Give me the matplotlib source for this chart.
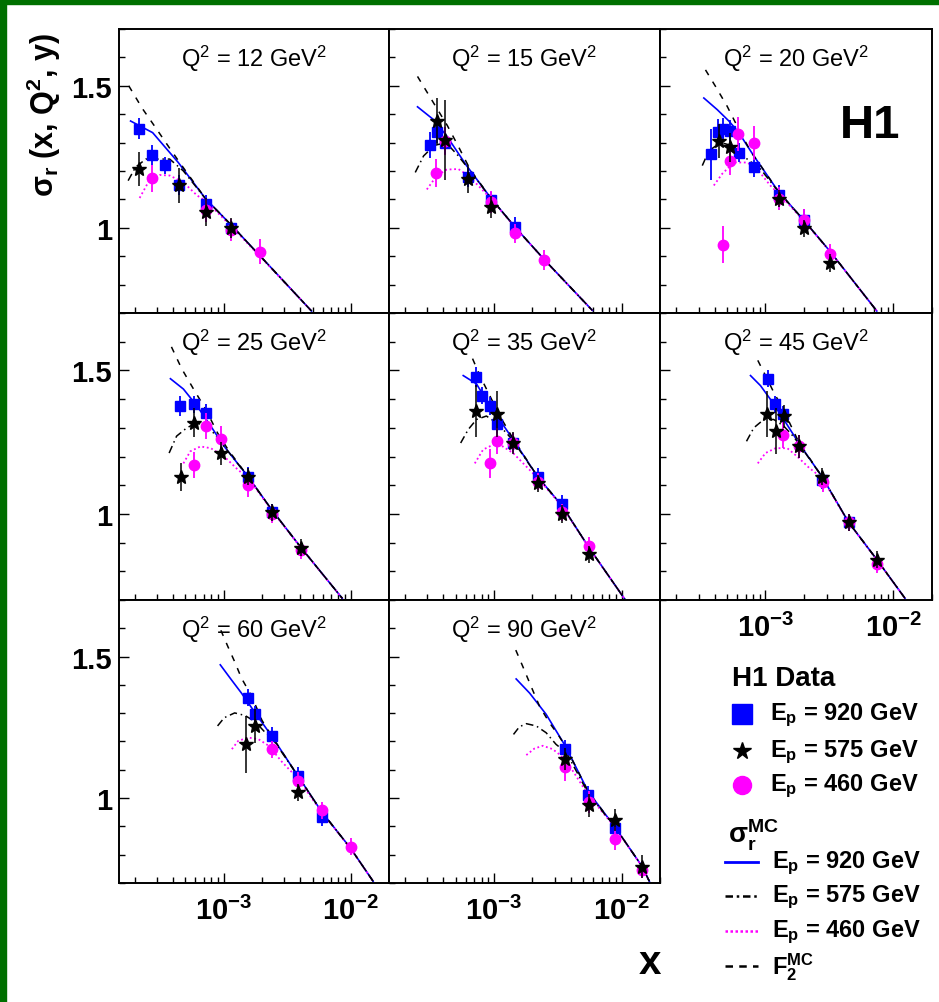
import numpy as np
import matplotlib
matplotlib.use('Agg')
import matplotlib.pyplot as plt
from matplotlib import ticker
from matplotlib.lines import Line2D
from matplotlib.patches import Rectangle

plt.rcParams['font.family'] = ['Liberation Sans', 'DejaVu Sans']
plt.rcParams['mathtext.fontset'] = 'custom'
plt.rcParams['mathtext.rm'] = 'Liberation Sans'
plt.rcParams['mathtext.it'] = 'Liberation Sans:italic'
plt.rcParams['mathtext.bf'] = 'Liberation Sans:bold'
plt.rcParams['mathtext.sf'] = 'Liberation Sans'

# ---------------- data ----------------
Q2 = [12, 15, 20, 25, 35, 45, 60, 90]

# H1 data, Ep = 920 GeV (blue squares)
x920 = [
    [2.15e-4, 2.71e-4, 3.43e-4, 4.47e-4, 7.2e-4, 1.15e-3],
    [3.15e-4, 3.55e-4, 4.1e-4, 6.2e-4, 9.5e-4, 1.47e-3],
    [3.73e-4, 4.27e-4, 4.68e-4, 5.33e-4, 6.2e-4, 8.2e-4, 1.27e-3, 1.99e-3],
    [4.53e-4, 5.8e-4, 7.2e-4, 1.54e-3, 2.41e-3],
    [7.2e-4, 8.1e-4, 9.25e-4, 1.05e-3, 1.42e-3, 2.2e-3, 3.4e-3],
    [1.04e-3, 1.18e-3, 1.36e-3, 2.77e-3, 4.46e-3],
    [1.54e-3, 1.77e-3, 2.38e-3, 3.83e-3, 5.9e-3],
    [3.62e-3, 5.5e-3, 8.9e-3],
]
s920 = [
    [1.349, 1.256, 1.221, 1.151, 1.085, 0.998],
    [1.291, 1.337, 1.30, 1.178, 1.097, 1.003],
    [1.259, 1.337, 1.347, 1.341, 1.265, 1.213, 1.116, 1.027],
    [1.376, 1.382, 1.353, 1.129, 1.006],
    [1.476, 1.412, 1.376, 1.312, 1.247, 1.129, 1.035],
    [1.471, 1.382, 1.347, 1.118, 0.971],
    [1.354, 1.296, 1.22, 1.079, 0.933],
    [1.175, 1.012, 0.893],
]
e920 = [
    [0.036, 0.035, 0.03, 0.035, 0.03, 0.03],
    [0.045, 0.04, 0.04, 0.035, 0.03, 0.035],
    [0.09, 0.045, 0.04, 0.04, 0.035, 0.035, 0.035, 0.04],
    [0.035, 0.03, 0.03, 0.035, 0.03],
    [0.035, 0.03, 0.03, 0.03, 0.03, 0.03, 0.03],
    [0.03, 0.03, 0.03, 0.03, 0.03],
    [0.03, 0.03, 0.03, 0.03, 0.03],
    [0.03, 0.03, 0.03],
]

# H1 data, Ep = 575 GeV (black stars)
x575 = [
    [2.15e-4, 4.47e-4, 7.2e-4, 1.15e-3],
    [3.55e-4, 4.1e-4, 6.2e-4, 9.5e-4],
    [4.3e-4, 5.3e-4, 1.27e-3, 1.99e-3, 3.2e-3],
    [4.6e-4, 5.8e-4, 9.6e-4, 1.56e-3, 2.4e-3, 4.07e-3],
    [7.2e-4, 1.05e-3, 1.42e-3, 2.2e-3, 3.4e-3, 5.56e-3],
    [1.03e-3, 1.2e-3, 1.39e-3, 1.82e-3, 2.77e-3, 4.46e-3, 7.4e-3],
    [1.51e-3, 1.77e-3, 3.83e-3],
    [3.62e-3, 5.56e-3, 8.9e-3, 1.45e-2],
]
s575 = [
    [1.207, 1.149, 1.056, 1.0],
    [1.376, 1.31, 1.172, 1.073],
    [1.306, 1.283, 1.102, 0.998, 0.876],
    [1.129, 1.318, 1.212, 1.129, 1.006, 0.882],
    [1.359, 1.347, 1.247, 1.106, 1.0, 0.859],
    [1.347, 1.288, 1.341, 1.235, 1.129, 0.971, 0.841],
    [1.19, 1.255, 1.021],
    [1.138, 0.974, 0.922, 0.758],
]
e575 = [
    [0.06, 0.06, 0.05, 0.035],
    [0.08, 0.14, 0.05, 0.04],
    [0.06, 0.05, 0.03, 0.03, 0.03],
    [0.05, 0.05, 0.04, 0.03, 0.03, 0.03],
    [0.09, 0.08, 0.04, 0.03, 0.03, 0.03],
    [0.08, 0.08, 0.04, 0.04, 0.03, 0.03, 0.03],
    [0.10, 0.06, 0.03],
    [0.04, 0.04, 0.04, 0.04],
]

# H1 data, Ep = 460 GeV (magenta circles)
x460 = [
    [2.71e-4, 7.2e-4, 1.15e-3, 1.94e-3],
    [3.51e-4, 4.1e-4, 9.5e-4, 1.47e-3, 2.45e-3],
    [4.68e-4, 5.3e-4, 6.1e-4, 8.1e-4, 1.27e-3, 1.99e-3, 3.2e-3],
    [5.8e-4, 7.2e-4, 9.6e-4, 1.54e-3, 2.41e-3, 4.07e-3],
    [9.25e-4, 1.05e-3, 1.42e-3, 2.2e-3, 3.4e-3, 5.56e-3],
    [1.36e-3, 1.82e-3, 2.8e-3, 4.46e-3, 7.4e-3],
    [2.38e-3, 3.83e-3, 5.9e-3, 1.0e-2],
    [3.62e-3, 5.56e-3, 8.9e-3, 1.45e-2],
]
s460 = [
    [1.174, 1.062, 0.992, 0.916],
    [1.193, 1.306, 1.091, 0.98, 0.887],
    [0.94, 1.236, 1.329, 1.30, 1.102, 1.027, 0.907],
    [1.171, 1.306, 1.261, 1.1, 1.0, 0.873],
    [1.176, 1.253, 1.247, 1.112, 1.006, 0.888],
    [1.276, 1.235, 1.112, 0.971, 0.824],
    [1.173, 1.062, 0.957, 0.828],
    [1.109, 0.986, 0.857, 0.746],
]
e460 = [
    [0.047, 0.04, 0.04, 0.044],
    [0.05, 0.05, 0.04, 0.035, 0.035],
    [0.065, 0.05, 0.06, 0.06, 0.04, 0.04, 0.035],
    [0.045, 0.045, 0.045, 0.04, 0.03, 0.03],
    [0.05, 0.045, 0.035, 0.03, 0.03, 0.03],
    [0.045, 0.04, 0.035, 0.03, 0.03],
    [0.03, 0.03, 0.03, 0.03],
    [0.05, 0.04, 0.04, 0.03],
]

# MC curves sigma_r, Ep = 920 GeV (blue solid)
mc920_x = [
    [1.85e-4, 2.76e-4, 4.39e-4, 7.21e-4, 1.15e-3, 2.13e-3, 4.91e-3],
    [2.51e-4, 3.35e-4, 4.26e-4, 6.08e-4, 9.53e-4, 1.49e-3, 2.56e-3, 5.9e-3],
    [3.3e-4, 4.2e-4, 5.18e-4, 6.19e-4, 8.11e-4, 1.27e-3, 1.99e-3, 3.21e-3, 7.41e-3],
    [3.81e-4, 4.82e-4, 6.17e-4, 7.91e-4, 1.01e-3, 1.56e-3, 2.41e-3, 4.07e-3, 8.57e-3],
    [5.73e-4, 7.28e-4, 9.25e-4, 1.17e-3, 1.41e-3, 2.2e-3, 3.4e-3, 5.56e-3, 1.07e-2],
    [7.64e-4, 9.14e-4, 1.09e-3, 1.39e-3, 1.82e-3, 2.77e-3, 4.46e-3, 7.41e-3, 1.23e-2],
    [9.4e-4, 1.15e-3, 1.38e-3, 1.77e-3, 2.38e-3, 3.83e-3, 5.92e-3, 1.0e-2, 1.5e-2],
    [1.49e-3, 1.9e-3, 2.56e-3, 3.61e-3, 5.5e-3, 8.87e-3, 1.45e-2, 1.65e-2],
]
mc920_y = [
    [1.376, 1.335, 1.230, 1.102, 1.009, 0.881, 0.707],
    [1.426, 1.381, 1.323, 1.219, 1.102, 0.998, 0.881, 0.709],
    [1.457, 1.416, 1.376, 1.335, 1.253, 1.126, 1.027, 0.916, 0.707],
    [1.471, 1.435, 1.376, 1.306, 1.235, 1.129, 1.012, 0.882, 0.706],
    [1.482, 1.453, 1.376, 1.312, 1.259, 1.129, 1.029, 0.882, 0.70],
    [1.482, 1.447, 1.40, 1.329, 1.247, 1.129, 0.971, 0.841, 0.706],
    [1.471, 1.418, 1.371, 1.301, 1.22, 1.079, 0.951, 0.822, 0.706],
    [1.421, 1.371, 1.296, 1.185, 1.021, 0.898, 0.758, 0.706],
]

# MC curves sigma_r, Ep = 575 GeV (black dash-dot)
mc575_x = [
    [1.77e-4, 2.02e-4, 2.44e-4, 3.76e-4, 4.82e-4, 7.21e-4, 1.15e-3, 2.13e-3, 4.91e-3],
    [2.41e-4, 2.8e-4, 3.4e-4, 4.2e-4, 5.2e-4, 6.5e-4, 9.53e-4, 1.49e-3, 2.56e-3, 5.9e-3],
    [3.21e-4, 3.61e-4, 4.46e-4, 5.66e-4, 7.19e-4, 9.14e-4, 1.27e-3, 1.99e-3, 3.21e-3, 7.41e-3],
    [3.72e-4, 4.26e-4, 5.13e-4, 6.17e-4, 7.91e-4, 1.01e-3, 1.56e-3, 2.41e-3, 4.07e-3, 8.57e-3],
    [5.47e-4, 6.27e-4, 7.28e-4, 8.71e-4, 1.04e-3, 1.25e-3, 1.41e-3, 2.2e-3, 3.4e-3, 5.56e-3, 1.07e-2],
    [7.11e-4, 8.11e-4, 9.7e-4, 1.16e-3, 1.39e-3, 1.65e-3, 1.82e-3, 2.77e-3, 4.46e-3, 7.41e-3, 1.23e-2],
    [8.95e-4, 1.01e-3, 1.22e-3, 1.47e-3, 1.77e-3, 2.13e-3, 2.38e-3, 3.83e-3, 5.92e-3, 1.0e-2, 1.5e-2],
    [1.42e-3, 1.58e-3, 1.79e-3, 2.14e-3, 2.56e-3, 3.06e-3, 3.7e-3, 5.5e-3, 8.87e-3, 1.45e-2, 1.65e-2],
]
mc575_y = [
    [1.166, 1.213, 1.242, 1.242, 1.20, 1.102, 1.009, 0.881, 0.707],
    [1.195, 1.253, 1.29, 1.30, 1.255, 1.2, 1.102, 0.998, 0.881, 0.709],
    [1.219, 1.271, 1.30, 1.288, 1.242, 1.207, 1.126, 1.027, 0.916, 0.707],
    [1.212, 1.271, 1.30, 1.318, 1.294, 1.235, 1.129, 1.012, 0.882, 0.706],
    [1.247, 1.294, 1.329, 1.341, 1.318, 1.282, 1.255, 1.129, 1.029, 0.882, 0.70],
    [1.253, 1.30, 1.329, 1.329, 1.306, 1.27, 1.245, 1.129, 0.971, 0.841, 0.706],
    [1.255, 1.284, 1.301, 1.292, 1.27, 1.231, 1.215, 1.079, 0.951, 0.822, 0.706],
    [1.225, 1.252, 1.263, 1.255, 1.231, 1.19, 1.16, 1.015, 0.898, 0.758, 0.706],
]

# MC curves sigma_r, Ep = 460 GeV (magenta dotted)
mc460_x = [
    [2.18e-4, 2.59e-4, 3.13e-4, 3.76e-4, 4.82e-4, 6.17e-4, 7.21e-4, 1.15e-3, 2.13e-3, 4.91e-3],
    [2.97e-4, 3.56e-4, 4.26e-4, 5.24e-4, 6.27e-4, 7.73e-4, 9.53e-4, 1.49e-3, 2.56e-3, 5.9e-3],
    [3.95e-4, 4.59e-4, 5.66e-4, 7.19e-4, 8.61e-4, 1.09e-3, 1.27e-3, 1.99e-3, 3.21e-3, 7.41e-3],
    [4.82e-4, 5.46e-4, 6.56e-4, 7.91e-4, 1.01e-3, 1.3e-3, 1.56e-3, 2.41e-3, 4.07e-3, 8.57e-3],
    [7.06e-4, 8.2e-4, 9.82e-4, 1.17e-3, 1.41e-3, 1.79e-3, 2.2e-3, 3.4e-3, 5.56e-3, 1.07e-2],
    [8.71e-4, 1.0e-3, 1.2e-3, 1.48e-3, 1.77e-3, 2.2e-3, 2.77e-3, 4.46e-3, 7.41e-3, 1.23e-2],
    [1.16e-3, 1.3e-3, 1.56e-3, 1.88e-3, 2.26e-3, 2.9e-3, 3.83e-3, 5.92e-3, 1.0e-2, 1.5e-2],
    [1.79e-3, 2.07e-3, 2.41e-3, 2.88e-3, 3.35e-3, 4.13e-3, 5.5e-3, 8.87e-3, 1.45e-2, 1.65e-2],
]
mc460_y = [
    [1.105, 1.166, 1.186, 1.184, 1.16, 1.114, 1.095, 1.005, 0.879, 0.707],
    [1.135, 1.184, 1.205, 1.207, 1.184, 1.143, 1.10, 0.997, 0.880, 0.709],
    [1.149, 1.19, 1.23, 1.23, 1.207, 1.149, 1.12, 1.025, 0.915, 0.707],
    [1.176, 1.218, 1.235, 1.229, 1.2, 1.153, 1.125, 1.01, 0.881, 0.706],
    [1.176, 1.224, 1.241, 1.235, 1.212, 1.165, 1.125, 1.027, 0.881, 0.70],
    [1.176, 1.212, 1.229, 1.229, 1.20, 1.16, 1.125, 0.97, 0.84, 0.706],
    [1.173, 1.202, 1.214, 1.208, 1.185, 1.126, 1.07, 0.949, 0.821, 0.706],
    [1.152, 1.175, 1.185, 1.173, 1.15, 1.097, 1.01, 0.897, 0.757, 0.706],
]

# MC F2 (black dashed)
f2_x = [
    [1.79e-4, 2.29e-4, 2.94e-4, 3.76e-4, 4.5e-4, 7.21e-4, 1.15e-3, 2.13e-3, 4.91e-3],
    [2.51e-4, 3.35e-4, 4.3e-4, 5.2e-4, 6.5e-4, 9.53e-4, 1.49e-3, 2.56e-3, 5.9e-3],
    [3.4e-4, 4.07e-4, 5.02e-4, 6.38e-4, 7.64e-4, 9.14e-4, 1.27e-3, 1.99e-3, 3.21e-3, 7.41e-3],
    [3.88e-4, 4.67e-4, 5.79e-4, 7.21e-4, 8.95e-4, 1.09e-3, 1.56e-3, 2.41e-3, 4.07e-3, 8.57e-3],
    [6.78e-4, 7.73e-4, 9.25e-4, 1.11e-3, 1.41e-3, 2.2e-3, 3.4e-3, 5.56e-3, 1.07e-2],
    [8.71e-4, 1.0e-3, 1.16e-3, 1.39e-3, 1.65e-3, 1.82e-3, 2.77e-3, 4.46e-3, 7.41e-3, 1.23e-2],
    [9.5e-4, 1.08e-3, 1.22e-3, 1.38e-3, 1.66e-3, 2.0e-3, 2.38e-3, 3.83e-3, 5.92e-3, 1.0e-2, 1.5e-2],
    [1.48e-3, 1.68e-3, 1.95e-3, 2.27e-3, 2.72e-3, 3.2e-3, 3.61e-3, 5.5e-3, 8.87e-3, 1.45e-2, 1.65e-2],
]
f2_y = [
    [1.50, 1.42, 1.35, 1.28, 1.23, 1.102, 1.009, 0.881, 0.707],
    [1.533, 1.44, 1.36, 1.29, 1.205, 1.102, 0.998, 0.881, 0.709],
    [1.556, 1.498, 1.428, 1.335, 1.27, 1.22, 1.126, 1.027, 0.916, 0.707],
    [1.582, 1.506, 1.435, 1.365, 1.282, 1.222, 1.129, 1.012, 0.882, 0.706],
    [1.541, 1.482, 1.412, 1.341, 1.262, 1.129, 1.029, 0.882, 0.70],
    [1.535, 1.482, 1.424, 1.36, 1.29, 1.25, 1.129, 0.971, 0.841, 0.706],
    [1.593, 1.535, 1.482, 1.424, 1.36, 1.275, 1.22, 1.079, 0.951, 0.822, 0.706],
    [1.523, 1.465, 1.395, 1.325, 1.266, 1.222, 1.185, 1.021, 0.898, 0.758, 0.706],
]

# ---------------- figure ----------------
W, H = 939, 1003
fig = plt.figure(figsize=(W / 100, H / 100), dpi=100)
fig.patch.set_facecolor('white')

def fx(px):
    return px / W

def fy(py):
    return 1 - py / H

green = '#007000'
fig.add_artist(Rectangle((0, 0), fx(6), 1, transform=fig.transFigure,
                         color=green, zorder=0))
fig.add_artist(Rectangle((0, fy(5)), 1, 5 / H, transform=fig.transFigure,
                         color=green, zorder=0))

col_left = [119, 389, 660]
col_right = [389, 660, 932]
row_top = [30, 314, 601]
row_bot = [314, 601, 884]

BLUE = '#0000ff'
MAG = '#ff00ff'

for i, q in enumerate(Q2):
    r, c = divmod(i, 3)
    ax = fig.add_axes([fx(col_left[c]), fy(row_bot[r]),
                       (col_right[c] - col_left[c]) / W,
                       (row_bot[r] - row_top[r]) / H])
    ax.set_xscale('log')
    ax.set_xlim(1.5e-4, 2.0e-2)
    ax.set_ylim(0.7, 1.7)

    # curves
    ax.plot(mc920_x[i], mc920_y[i], color=BLUE, lw=1.2, ls='-', zorder=2)
    ax.plot(mc460_x[i], mc460_y[i], color=MAG, lw=1.3, ls=(0, (1, 1.5)), zorder=3)
    ax.plot(mc575_x[i], mc575_y[i], color='black', lw=1.1, ls=(0, (5, 2.5, 1, 2.5)), zorder=3)
    ax.plot(f2_x[i], f2_y[i], color='black', lw=1.1, ls=(0, (4, 5)), zorder=3)

    # data
    ax.errorbar(x920[i], s920[i], yerr=e920[i], fmt='s', color=BLUE, ms=7,
                elinewidth=1.3, capsize=0, zorder=4)
    ax.errorbar(x460[i], s460[i], yerr=e460[i], fmt='o', color=MAG, ms=7.5,
                elinewidth=1.3, capsize=0, zorder=5)
    ax.errorbar(x575[i], s575[i], yerr=e575[i], fmt='*', color='black', ms=10,
                elinewidth=1.1, capsize=0, zorder=6)

    ax.text(0.5, 0.898, r'Q$^2$ = %d GeV$^2$' % q, transform=ax.transAxes,
            ha='center', va='center', fontsize=17)

    for sp in ax.spines.values():
        sp.set_linewidth(1.4)

    ax.xaxis.set_major_locator(ticker.LogLocator(base=10, numticks=10))
    ax.xaxis.set_minor_locator(ticker.LogLocator(base=10, subs=np.arange(2, 10), numticks=20))
    ax.xaxis.set_minor_formatter(ticker.NullFormatter())
    ax.yaxis.set_major_locator(ticker.FixedLocator([1.0, 1.5]))
    ax.yaxis.set_minor_locator(ticker.MultipleLocator(0.1))
    ax.tick_params(which='both', direction='in', top=False, right=False, width=1.0)
    ax.tick_params(which='major', length=7)
    ax.tick_params(which='minor', length=4)

    if c == 0:
        ax.yaxis.set_major_formatter(ticker.FixedFormatter(['1', '1.5']))
        ax.tick_params(axis='y', labelsize=21, pad=5)
        for lab in ax.get_yticklabels():
            lab.set_fontweight('bold')
    else:
        ax.yaxis.set_major_formatter(ticker.NullFormatter())

    if i in (5, 6, 7):
        ax.xaxis.set_major_formatter(ticker.FuncFormatter(
            lambda v, p: r'$\mathbf{10^{%d}}$' % int(round(np.log10(v)))))
        ax.tick_params(axis='x', labelsize=21, pad=9)
    else:
        ax.xaxis.set_major_formatter(ticker.NullFormatter())

# axis titles
fig.text(fx(44), fy(115), r'$\mathbf{\sigma}_\mathbf{r}$ (x, Q$^\mathbf{2}$, y)', rotation=90,
         ha='center', va='center', fontsize=22, fontweight='bold')
fig.text(fx(650), fy(963), 'x', ha='center', va='center', fontsize=29,
         fontweight='bold')
fig.text(fx(870), fy(126), 'H1', ha='center', va='center', fontsize=34,
         fontweight='bold')

# legend
fig.text(fx(732), fy(679), 'H1 Data', ha='left', va='center', fontsize=20,
         fontweight='bold')
leg_marks = [('s', BLUE, 14, 715, '920'), ('*', 'black', 13, 752, '575'),
             ('o', MAG, 13, 786, '460')]
for m, col, ms, yy, lab in leg_marks:
    fig.add_artist(Line2D([fx(742)], [fy(yy)], marker=m, color=col, ms=ms,
                          ls='none', transform=fig.transFigure))
    fig.text(fx(770), fy(yy), r'E$_\mathbf{p}$ = %s GeV' % lab, ha='left',
             va='center', fontsize=17, fontweight='bold')

fig.text(fx(728), fy(835), r'$\mathbf{\sigma}_\mathbf{r}^\mathbf{MC}$', ha='left',
         va='center', fontsize=20, fontweight='bold')
leg_lines = [(BLUE, '-', 2.0, 863, r'E$_\mathbf{p}$ = 920 GeV'),
             ('black', (0, (3, 1.5, 1, 1.5)), 1.8, 897, r'E$_\mathbf{p}$ = 575 GeV'),
             (MAG, (0, (1, 1)), 1.8, 932, r'E$_\mathbf{p}$ = 460 GeV'),
             ('black', (0, (3, 2.5)), 1.8, 967, r'F$_\mathbf{2}^\mathbf{MC}$')]
for col, ls, lw, yy, lab in leg_lines:
    fig.add_artist(Line2D([fx(725), fx(758)], [fy(yy), fy(yy)], color=col,
                          ls=ls, lw=lw, transform=fig.transFigure))
    fig.text(fx(772), fy(yy), lab, ha='left', va='center', fontsize=17,
             fontweight='bold')

fig.savefig('out.png', dpi=100)
